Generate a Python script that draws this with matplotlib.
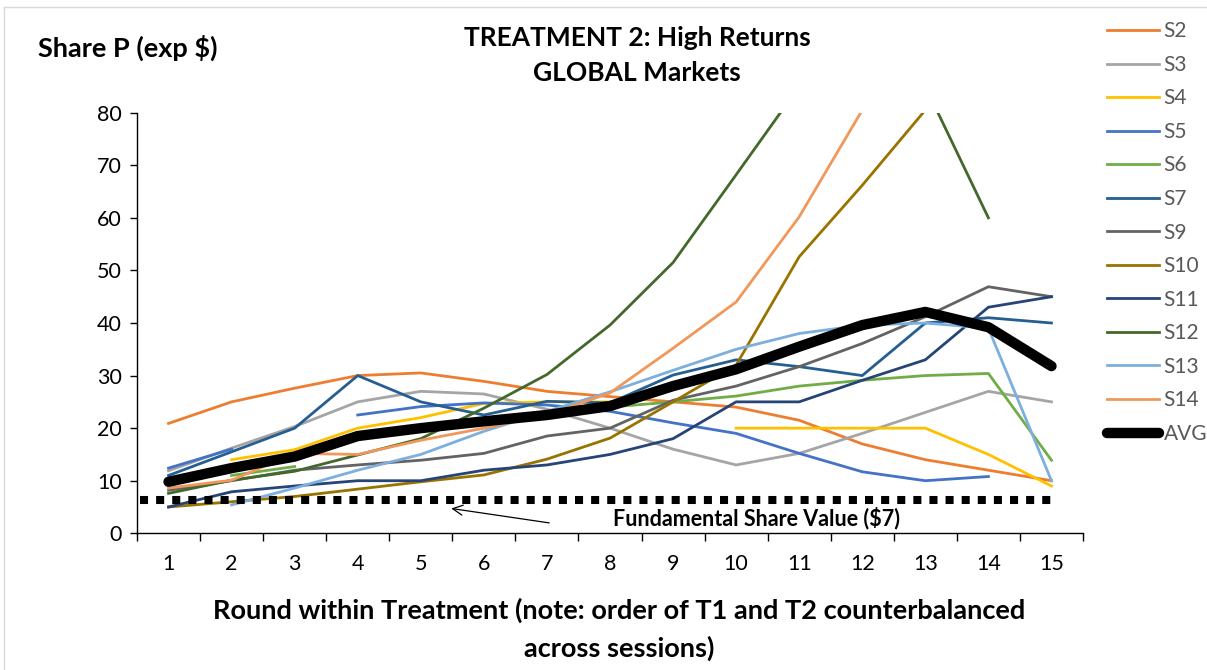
import matplotlib
matplotlib.use("Agg")
import matplotlib.pyplot as plt
from matplotlib.lines import Line2D
import numpy as np

nan = np.nan
plt.rcParams['font.family'] = ['Lato', 'DejaVu Sans']

rounds = list(range(1, 16))

S2 = [20.9, 25, 27.6, 30, 30.5, 28.9, 27, 26, 25, 24, 21.5, 17, 14, 12, 10]
S3 = [11.9, 16.2, 20.3, 25, 27, 26.5, 23.6, 20, 16, 13, 15.2, 19, 23, 27, 25]
S4 = [nan, 14, 15.9, 20, 22, 24.7, 25, 25, nan, 20, 20, 20, 20, 15, 9]
S5 = [12.4, 16, nan, 22.5, 24.1, 24.8, 24.4, 23.2, 21, 19, 15.2, 11.7, 10, 10.8, nan]
S6 = [nan, 11, 12.7, nan, nan, nan, nan, 24, 25, 26.1, 28, 29.1, 30, 30.4, 13.9]
S7 = [11, 15.5, 20, 30, 25, 22.5, 25.1, 24.8, 30.1, 33, 31.7, 30, 40, 41, 40]
S9 = [8.2, 10, 12, 13, 13.9, 15.2, 18.5, 20, 25.3, 28, 31.7, 36.1, 41.2, 46.9, 45]
S10 = [5, 6, 7, 8.4, 9.8, 11.1, 14.1, 18.1, 25, 32, 52.6, 66.2, 80.5, nan, nan]
S11 = [5, 7.9, 9, 10, 10, 12, 13, 15, 18, 25, 25, 29.1, 33, 43, 45]
S12 = [7.6, 10.1, 11.8, 14.9, 18, 23.8, 30.2, 39.6, 51.5, 68.2, 85, 95, 85, 60, nan]
S13 = [nan, 5.4, 8.6, 12, 15, 19.4, 23.2, 26.9, 31, 35, 38, 39.6, 40, 39, 10]
S14 = [8.6, 10.1, 15.2, 15, 17.7, 20, 22.5, 26.7, 35.2, 44, 60.2, 80.5, nan, nan, nan]
AVG = [9.8, 12.4, 14.6, 18.5, 20, 21.3, 22.5, 24.2, 28, 31.2, 35.5, 39.6, 42.1, 39.2, 31.8]

sessions = {"S2": S2, "S3": S3, "S4": S4, "S5": S5, "S6": S6, "S7": S7, "S9": S9,
            "S10": S10, "S11": S11, "S12": S12, "S13": S13, "S14": S14}
colours = ["#ED7D31", "#A5A5A5", "#FFC000", "#4472C4", "#70AD47", "#255E91", "#636363",
           "#997300", "#264478", "#43682B", "#7CAFDD", "#F1975A"]

fund_x = [0.55, 15]
fund_y = [6.3, 6.3]

fig = plt.figure(figsize=(12.07, 6.70), dpi=100)
ax = fig.add_axes([137/1207, 1-533.3/670, (1083-137)/1207, (533.3-112.7)/670])

i = 0
for key in sessions:
    ax.plot(rounds, sessions[key], color=colours[i], lw=2.0, label=key)
    i += 1

ax.plot(fund_x, fund_y, color="black", lw=5.8, ls=(0, (1, 1)), solid_capstyle="butt",
        dash_capstyle="butt")
ax.plot(rounds, AVG, color="black", lw=7.5, solid_capstyle="round",
        solid_joinstyle="round", label="AVG")

ax.set_xlim(0.5, 15.5)
ax.set_ylim(0, 80)
ax.set_yticks(range(0, 81, 10))
ax.set_xticks(rounds)
ax.set_xticks(np.arange(0.5, 15.6, 1), minor=True)
ax.tick_params(axis="x", which="major", length=0, pad=15, labelsize=15.5)
ax.tick_params(axis="x", which="minor", length=6, width=1, direction="out")
ax.tick_params(axis="y", length=5, width=1, direction="out", pad=6, labelsize=15.5)
for s in ["top", "right"]:
    ax.spines[s].set_visible(False)
ax.spines["left"].set_linewidth(1)
ax.spines["bottom"].set_linewidth(1)

ax.annotate("", xy=(5.44, 4.8), xytext=(7.08, 1.9),
            arrowprops=dict(arrowstyle="->", lw=0.9, color="black", mutation_scale=18))
ax.text(10.33, 2.9, "Fundamental Share Value ($7)", ha="center", va="center",
        fontsize=15.5, fontweight="bold")

fig.legend(*ax.get_legend_handles_labels(), loc="upper left",
           bbox_to_anchor=(1099/1207, 1-13/670), frameon=False, fontsize=15,
           labelcolor="#595959", handlelength=2.5, handletextpad=0.2, labelspacing=0.65,
           borderaxespad=0)

fig.text(637/1207, 1-38/670, "TREATMENT 2: High Returns", ha="center", va="center",
         fontsize=19, fontweight="bold")
fig.text(637/1207, 1-73/670, "GLOBAL Markets", ha="center", va="center",
         fontsize=19, fontweight="bold")
fig.text(38/1207, 1-48/670, "Share P (exp $)", ha="left", va="center",
         fontsize=19.5, fontweight="bold")
fig.text(619/1207, 1-610/670, "Round within Treatment (note: order of T1 and T2 counterbalanced",
         ha="center", va="center", fontsize=19.5, fontweight="bold")
fig.text(619/1207, 1-648/670, "across sessions)", ha="center", va="center",
         fontsize=19.5, fontweight="bold")

# chart border (top and left edges visible)
fig.add_artist(Line2D([4/1207, 1], [1-7/670, 1-7/670], color="#D9D9D9", lw=1))
fig.add_artist(Line2D([4/1207, 4/1207], [0, 1-7/670], color="#D9D9D9", lw=1))

plt.savefig("out.png", dpi=100)
